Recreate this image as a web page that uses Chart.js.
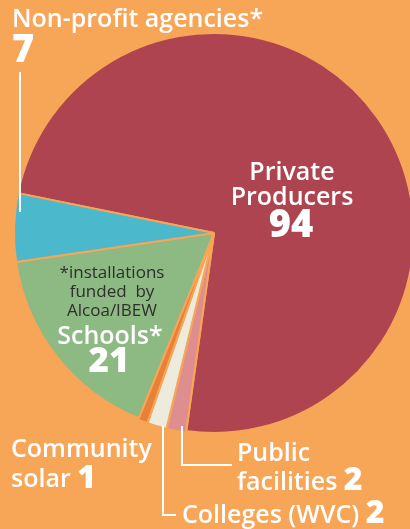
<!DOCTYPE html>
<html>
<head>
<meta charset="utf-8">
<script src="https://cdn.jsdelivr.net/npm/chart.js@4/dist/chart.umd.min.js"></script>
<style>
  html, body { margin: 0; padding: 0; background: #F7A557; }
  #wrap { position: relative; width: 410px; height: 529px; overflow: hidden; background: #F7A557; }
  #wrap canvas { position: absolute; left: 0; top: 0; }
</style>
</head>
<body>
<div id="wrap"><canvas id="pie" width="430" height="529"></canvas></div>
<script>
// installations by type, clockwise from the top of Private Producers
const categories = ['Private Producers', 'Public facilities', 'Colleges (WVC)', 'Community solar', 'Schools*', 'Non-profit agencies*'];
const installs = [94, 2, 2, 1, 21, 7];
const sliceColors = ['#AD4450', '#DE8E8E', '#EDEBDC', '#E8803A', '#8DB982', '#4BB8CC'];
const footnote = ['*installations', 'funded  by', 'Alcoa/IBEW'];

const BG = '#F7A557';
const FONT = '"Open Sans", sans-serif';

const labelsPlugin = {
  id: 'labels',
  afterDraw(chart) {
    const ctx = chart.ctx;
    ctx.save();
    ctx.fillStyle = '#fff';
    ctx.strokeStyle = '#fff';
    ctx.lineWidth = 2;
    ctx.textBaseline = 'alphabetic';

    // leader lines
    ctx.beginPath();
    ctx.moveTo(20, 72); ctx.lineTo(20, 212);
    ctx.moveTo(163, 426); ctx.lineTo(163, 515); ctx.lineTo(176, 515);
    ctx.moveTo(182, 426); ctx.lineTo(182, 465); ctx.lineTo(232, 465);
    ctx.stroke();

    // Non-profit
    ctx.textAlign = 'left';
    ctx.font = '600 25px ' + FONT;
    ctx.fillText(categories[5], 12, 27);
    ctx.font = '800 38px ' + FONT;
    ctx.fillText(String(installs[5]), 12, 62);

    // Private producers
    ctx.textAlign = 'center';
    ctx.font = '600 25px ' + FONT;
    ctx.fillText('Private', 292, 180);
    ctx.fillText('Producers', 292, 205);
    ctx.font = '800 38px ' + FONT;
    ctx.fillText(String(installs[0]), 291, 237);

    // Schools
    ctx.fillStyle = '#2e2e2e';
    ctx.font = '400 17px ' + FONT;
    footnote.forEach((t, i) => ctx.fillText(t, 112, 278 + i * 19));
    ctx.fillStyle = '#fff';
    ctx.font = '600 25px ' + FONT;
    ctx.fillText(categories[4], 110, 344);
    ctx.font = '800 35px ' + FONT;
    ctx.fillText(String(installs[4]), 109, 372);

    // Community solar
    ctx.textAlign = 'left';
    ctx.font = '600 25px ' + FONT;
    ctx.fillText('Community', 11, 457);
    ctx.fillText('solar', 11, 487);
    let w = ctx.measureText('solar ').width;
    ctx.font = '800 32px ' + FONT;
    ctx.fillText(String(installs[3]), 11 + w, 488);

    // Public facilities
    ctx.font = '600 25px ' + FONT;
    ctx.fillText('Public', 237, 461);
    ctx.fillText('facilities', 237, 490);
    w = ctx.measureText('facilities ').width;
    ctx.font = '800 32px ' + FONT;
    ctx.fillText(String(installs[1]), 237 + w, 490);

    // Colleges
    ctx.font = '600 25px ' + FONT;
    ctx.fillText(categories[2], 182, 523);
    w = ctx.measureText(categories[2] + ' ').width;
    ctx.font = '800 32px ' + FONT;
    ctx.fillText(String(installs[2]), 182 + w, 523);

    ctx.restore();
  }
};

new Chart(document.getElementById('pie').getContext('2d'), {
  type: 'pie',
  data: {
    labels: categories,
    datasets: [{
      data: installs,
      backgroundColor: sliceColors,
      borderColor: BG,
      borderWidth: 2,
      offset: [0, 3, 3, 3, 0, 0],
      radius: 200
    }]
  },
  options: {
    responsive: false,
    animation: false,
    rotation: 281.5,
    layout: { padding: { left: 14, top: 33, right: 16, bottom: 96 } },
    plugins: {
      legend: { display: false },
      tooltip: { enabled: false }
    }
  },
  plugins: [labelsPlugin]
});
</script>
</body>
</html>
